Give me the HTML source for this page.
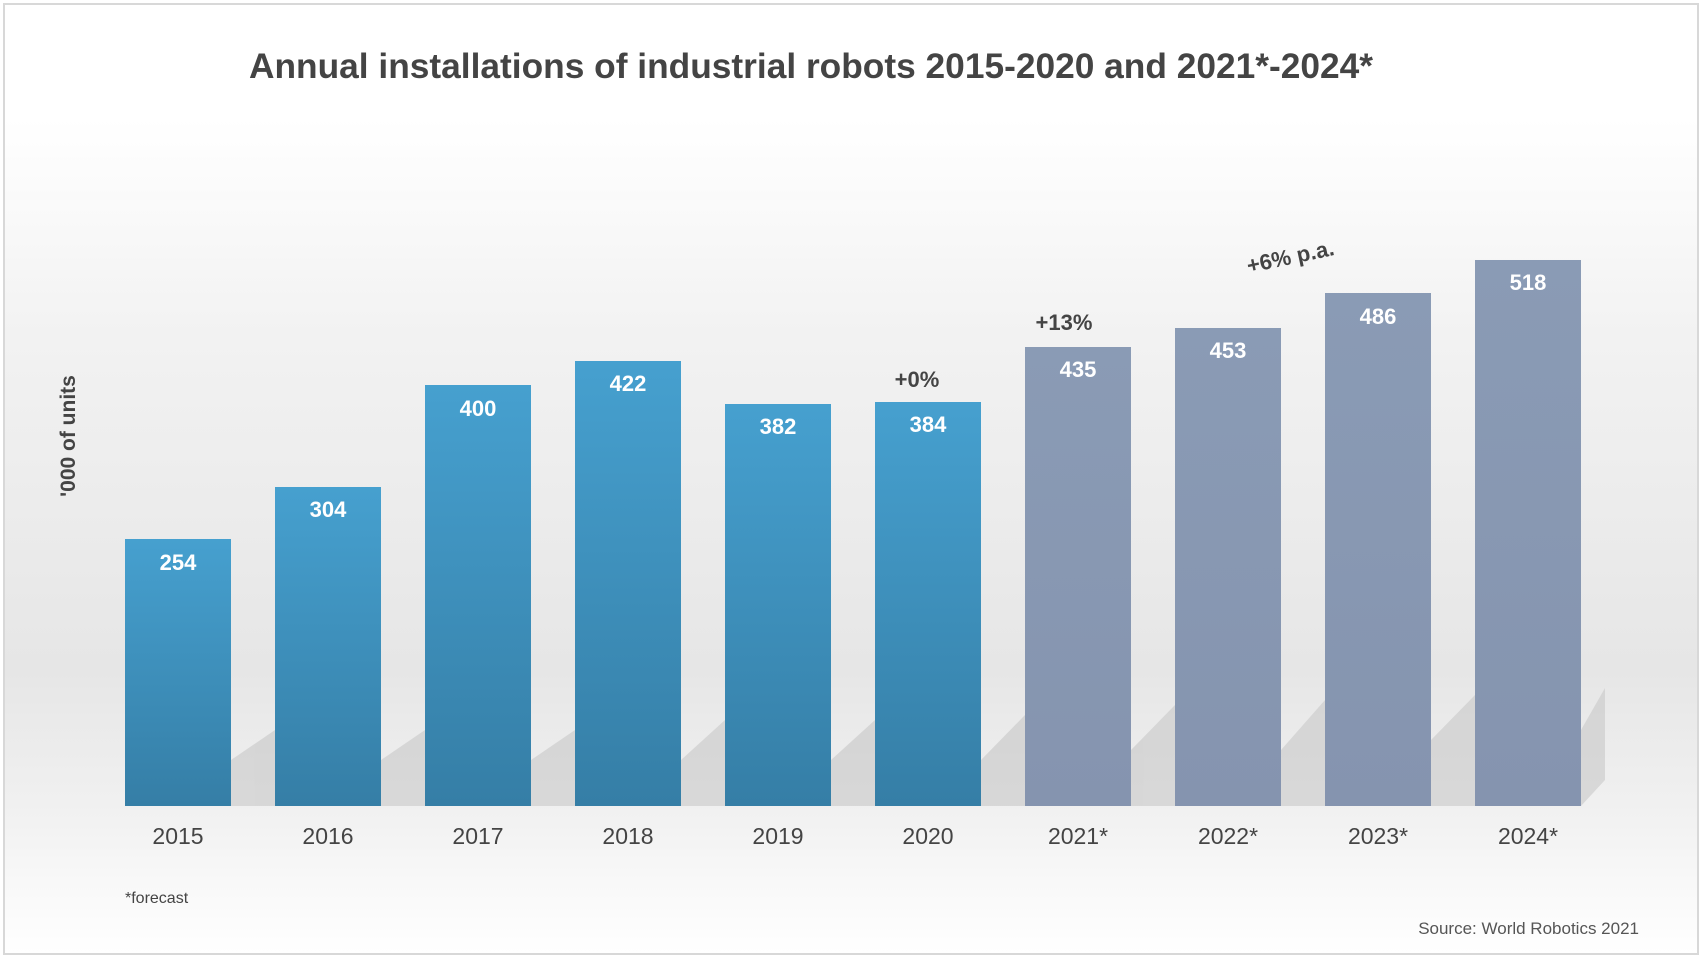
<!DOCTYPE html>
<html><head><meta charset="utf-8"><style>
body{margin:0;width:1702px;height:958px;overflow:hidden;font-family:"Liberation Sans",sans-serif;}
</style></head><body>
<svg width="1702" height="958" xmlns="http://www.w3.org/2000/svg">
<defs>
<linearGradient id="bg" x1="0" y1="0" x2="0" y2="1">
<stop offset="0" stop-color="#ffffff"/><stop offset="0.12" stop-color="#ffffff"/>
<stop offset="0.35" stop-color="#f2f2f2"/><stop offset="0.7" stop-color="#e6e6e6"/>
<stop offset="0.84" stop-color="#f0f0f0"/><stop offset="1" stop-color="#ffffff"/></linearGradient>
<linearGradient id="blue" x1="0" y1="0" x2="0" y2="1">
<stop offset="0" stop-color="#46a0cf"/><stop offset="1" stop-color="#357ea6"/></linearGradient>
<linearGradient id="grey" x1="0" y1="0" x2="0" y2="1">
<stop offset="0" stop-color="#8a9bb5"/><stop offset="1" stop-color="#8594af"/></linearGradient>
</defs>
<rect width="1702" height="958" fill="#fff"/>
<rect x="4" y="4" width="1694" height="950" fill="url(#bg)" stroke="#d8d8d8" stroke-width="2"/>
<g fill="#c4c4c4" opacity="0.55">
<polygon points="231,806 231,760 275,730 320,730 276,806"/>
<polygon points="381,806 381,760 425,730 470,730 426,806"/>
<polygon points="531,806 531,760 575,730 620,730 576,806"/>
<polygon points="681,806 681,760 725,720 770,720 726,806"/>
<polygon points="831,806 831,760 875,720 920,720 876,806"/>
<polygon points="981,806 981,760 1025,715 1070,715 1026,806"/>
<polygon points="1131,806 1131,750 1175,705 1220,705 1176,806"/>
<polygon points="1281,806 1281,750 1325,700 1370,700 1326,806"/>
<polygon points="1431,806 1431,740 1475,695 1520,695 1476,806"/>
<polygon points="1581,806 1581,730 1605,688 1605,780"/>
</g>
<g font-weight="bold" font-size="22" fill="#fff" text-anchor="middle">
<rect x="125" y="539" width="106" height="267" fill="url(#blue)"/><text x="178" y="570">254</text>
<rect x="275" y="487" width="106" height="319" fill="url(#blue)"/><text x="328" y="517">304</text>
<rect x="425" y="385" width="106" height="421" fill="url(#blue)"/><text x="478" y="416">400</text>
<rect x="575" y="361" width="106" height="445" fill="url(#blue)"/><text x="628" y="391">422</text>
<rect x="725" y="404" width="106" height="402" fill="url(#blue)"/><text x="778" y="434">382</text>
<rect x="875" y="402" width="106" height="404" fill="url(#blue)"/><text x="928" y="432">384</text>
<rect x="1025" y="347" width="106" height="459" fill="url(#grey)"/><text x="1078" y="377">435</text>
<rect x="1175" y="328" width="106" height="478" fill="url(#grey)"/><text x="1228" y="358">453</text>
<rect x="1325" y="293" width="106" height="513" fill="url(#grey)"/><text x="1378" y="324">486</text>
<rect x="1475" y="260" width="106" height="546" fill="url(#grey)"/><text x="1528" y="290">518</text>
</g>
<g font-size="23" fill="#444" text-anchor="middle">
<text x="178" y="844">2015</text><text x="328" y="844">2016</text><text x="478" y="844">2017</text>
<text x="628" y="844">2018</text><text x="778" y="844">2019</text><text x="928" y="844">2020</text>
<text x="1078" y="844">2021*</text><text x="1228" y="844">2022*</text><text x="1378" y="844">2023*</text>
<text x="1528" y="844">2024*</text>
</g>
<text x="811" y="78" font-size="35.3" font-weight="bold" fill="#444" text-anchor="middle">Annual installations of industrial robots 2015-2020 and 2021*-2024*</text>
<text transform="translate(75,436) rotate(-90)" font-size="21" font-weight="bold" fill="#444" text-anchor="middle">'000 of units</text>
<g font-size="22" font-weight="bold" fill="#444" text-anchor="middle">
<text x="917" y="387">+0%</text>
<text x="1064" y="330">+13%</text>
<text transform="translate(1292,264) rotate(-12)">+6% p.a.</text>
</g>
<text x="125" y="903" font-size="16" fill="#444">*forecast</text>
<text x="1639" y="934" font-size="17" fill="#555" text-anchor="end">Source: World Robotics 2021</text>
</svg>
</body></html>
